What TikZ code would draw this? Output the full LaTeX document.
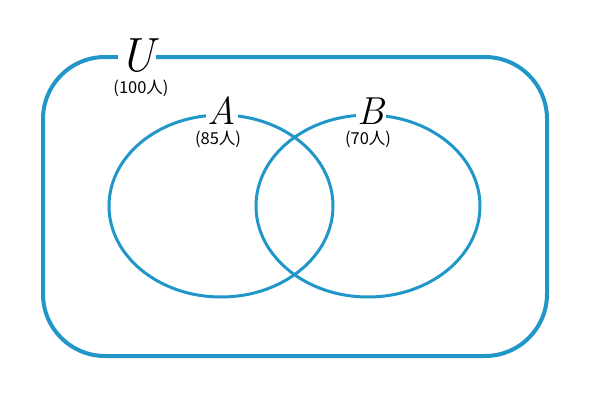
\documentclass[tikz,border=0pt]{standalone}
\usepackage{fontspec}
\newfontfamily\cjk{Noto Sans CJK JP}
\usetikzlibrary{shapes.geometric}
\definecolor{venn}{RGB}{33,150,200}
\begin{document}
\begin{tikzpicture}[x=1pt,y=-1pt,
  setline/.style={draw=venn,line width=3.5pt},
  setname/.style={fill=white,inner xsep=1.5pt,inner ysep=0pt,font=\itshape\fontsize{39}{39}\selectfont},
  count/.style={inner sep=0pt,font=\cjk\fontsize{16.5}{16.5}\selectfont}]
\useasboundingbox (0,0) rectangle (590,413);
\draw[setline,line width=4pt,rounded corners=62pt] (43,57) rectangle (547,356);
\node[setline,ellipse,minimum width=224pt,minimum height=182pt,inner sep=0pt,line width=3pt] (A) at (221,206) {};
\node[setline,ellipse,minimum width=224pt,minimum height=182pt,inner sep=0pt,line width=3pt] (B) at (368,206) {};
\node[setname,font=\itshape\fontsize{48}{48}\selectfont] (U) at (137,56) {U};
\node[count] (Un) at (141,88) {(100人)};
\node[setname] (Al) at (222,111) {A};
\node[count] (An) at (218,139) {(85人)};
\node[setname] (Bl) at (371,111) {B};
\node[count] (Bn) at (368,139) {(70人)};
\end{tikzpicture}
\end{document}
